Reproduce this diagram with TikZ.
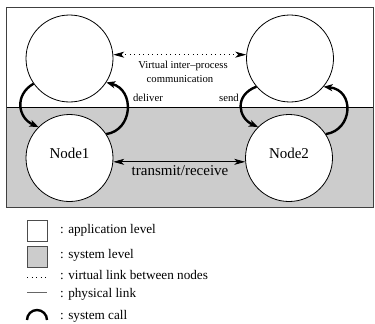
\documentclass[tikz,border=0pt]{standalone}
\usepackage{fontspec}
\setmainfont{Liberation Serif}
\usetikzlibrary{arrows.meta}
\definecolor{sysgray}{gray}{0.8}
\begin{document}
\begin{tikzpicture}[x=1pt,y=-1pt,
  circ/.style={circle, draw=black, line width=0.8pt, fill=white, minimum size=87pt, inner sep=0pt},
  big/.style={font=\fontsize{15}{18}\selectfont, inner sep=0pt},
  small/.style={font=\fontsize{10.7}{13}\selectfont, inner sep=0pt},
  leg/.style={font=\fontsize{13.2}{15}\selectfont, inner sep=0pt, anchor=base west},
  syscall/.style={line width=2.4pt, -{Stealth[length=9pt,width=7pt,inset=2.5pt]}},
  link/.style={line width=0.8pt, {Stealth[length=11pt,width=6pt,inset=3pt]}-{Stealth[length=11pt,width=6pt,inset=3pt]}},
  dotline/.style={dash pattern=on 0.9pt off 3.6pt},
  legbox/.style={draw=black!70, line width=0.8pt, minimum width=20pt, minimum height=21pt, inner sep=0pt},
]
\useasboundingbox (0,0) rectangle (375,324);
\fill[white] (0,0) rectangle (375,324);
\fill[sysgray] (6.7,107.5) rectangle (373,207.5);
\draw[line width=0.8pt, draw=black!75] (6.7,7.3) rectangle (373,207.5);
\draw[line width=0.8pt] (6.7,107.5) -- (373,107.5);

\node[circ] (a1) at (69.5,58.5) {};
\node[circ] (a2) at (290,58.5) {};
\node[circ] (n1) at (69.5,158) {};
\node[circ] (n2) at (289,158) {};
\node[big, anchor=base] (t1) at (69.5,158) {Node1};
\node[big, anchor=base] (t2) at (289,158) {Node2};

\draw[link, dotline] (a1.5) -- (a2.175);
\draw[link] (n1.-5) -- (n2.185);

\draw[syscall] (a1.-145) .. controls (14,95) and (18,118) .. (n1.135);
\draw[syscall] (n1.33) .. controls (133,130) and (135,90) .. (a1.-33);
\draw[syscall] (a2.-140) .. controls (234,95) and (238,118) .. (n2.135);
\draw[syscall] (n2.33) .. controls (353,130) and (355,90) .. (a2.-40);

\node[small, anchor=base] (vt1) at (183,68.3) {Virtual inter–process};
\node[small, anchor=base] (vt2) at (180,82.7) {communication};
\node[small, anchor=base] (dl) at (148,101) {deliver};
\node[small, anchor=base] (sd) at (229,101) {send};
\node[big, anchor=base] (tr) at (180,175) {transmit/receive};

\node[legbox, fill=white] (lg1) at (37,230.5) {};
\node[legbox, fill=sysgray] (lg2) at (37,257) {};
\draw[line width=0.8pt, dotline] (27,277) -- (47,277);
\draw[line width=0.8pt, black!60] (27,292) -- (47,292);
\draw[line width=2.4pt] (27,320) arc[start angle=180, end angle=360, radius=10];

\node[leg] (l1) at (60,233.5) {: application level};
\node[leg] (l2) at (60,258.5) {: system level};
\node[leg] (l3) at (60,279) {: virtual link between nodes};
\node[leg] (l4) at (60,297) {: physical link};
\node[leg] (l5) at (60,319) {: system call};
\end{tikzpicture}
\end{document}
